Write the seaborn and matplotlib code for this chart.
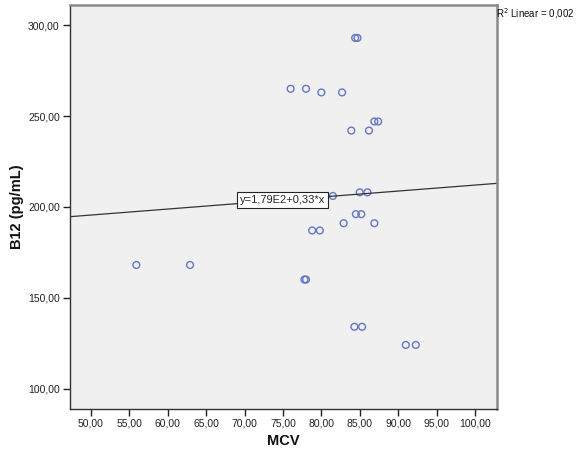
import matplotlib
matplotlib.use("Agg")
import matplotlib.pyplot as plt
from matplotlib.ticker import FuncFormatter, MultipleLocator
import seaborn as sns
import pandas as pd

mcv = [84.4, 84.7, 76.0, 78.0, 80.0, 82.7, 83.9, 86.2, 86.9, 87.4, 81.5, 85.0, 86.0,
       84.5, 85.2, 82.9, 86.9, 78.8, 79.8, 55.9, 62.9, 77.8, 78.0, 84.3, 85.3, 91.0, 92.3]
b12 = [293, 293, 265, 265, 263, 263, 242, 242, 247, 247, 206, 208, 208,
       196, 196, 191, 191, 187, 187, 168, 168, 160, 160, 134, 134, 124, 124]
intercept = 179.0
slope = 0.33
eq_label = "y=1,79E2+0,33*x"
r2_label = "R$^2$ Linear = 0,002"
x_label = "MCV"
y_label = "B12 (pg/mL)"

df = pd.DataFrame({"MCV": mcv, "B12": b12})

sns.set_style("white")
plt.rcParams["font.family"] = ["Liberation Sans", "DejaVu Sans"]

fig = plt.figure(figsize=(5.77, 4.59), dpi=100)
ax = fig.add_axes([69.5 / 577, 1 - 408.7 / 459, (497.2 - 69.5) / 577, (408.7 - 4.5) / 459])
ax.set_facecolor("#F0F0F0")

sns.scatterplot(data=df, x="MCV", y="B12", ax=ax, marker="o", s=24,
                facecolors="none", edgecolor="#6676C4", linewidth=1.0, legend=False)
ax.axline((0, intercept), slope=slope, color="#333333", lw=0.9, zorder=1)

ax.set_xlim(47.2, 102.9)
ax.set_ylim(88.9, 311.4)
ax.xaxis.set_major_locator(MultipleLocator(5))
ax.yaxis.set_major_locator(MultipleLocator(50))
fmt = FuncFormatter(lambda v, p: f"{v:.2f}".replace(".", ","))
ax.xaxis.set_major_formatter(fmt)
ax.yaxis.set_major_formatter(fmt)
ax.tick_params(axis="both", which="major", direction="out", length=5, width=1,
               color="#222222", labelsize=7.5, labelcolor="#222222", pad=2,
               bottom=True, left=True)

for side in ["left", "bottom"]:
    ax.spines[side].set_color("#333333")
    ax.spines[side].set_linewidth(1.0)
for side in ["top", "right"]:
    ax.spines[side].set_color("#8A8A8A")
    ax.spines[side].set_linewidth(1.8)

ax.set_xlabel(x_label, fontsize=10.5, fontweight="bold", labelpad=4, color="#111111")
ax.set_ylabel(y_label, fontsize=10.5, fontweight="bold", labelpad=3, color="#111111")

ax.text(74.9, 203.9, eq_label, fontsize=8, ha="center", va="center", zorder=5,
        bbox=dict(boxstyle="square,pad=0.25", facecolor="white", edgecolor="#222222", lw=0.8))
fig.text(496 / 577, 1 - 13.5 / 459, r2_label, fontsize=7.0, ha="left", va="center", color="#111111")

fig.savefig("out.png", dpi=100)
